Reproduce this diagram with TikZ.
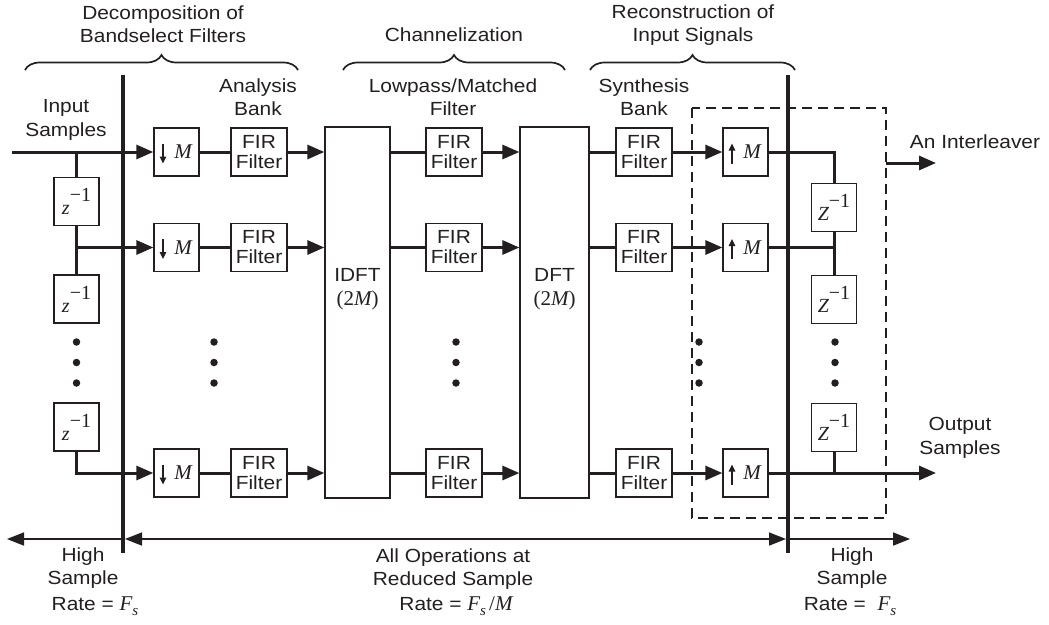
\documentclass[tikz,border=0pt]{standalone}
\usepackage{fontspec}
\setmainfont{Liberation Sans}[FakeStretch=1.1]
\newfontfamily\mysrf{Liberation Serif}
\usetikzlibrary{arrows.meta,decorations.pathreplacing}
\definecolor{ink}{RGB}{35,31,32}
\newcommand\lblfont{\fontsize{19}{23.5}\selectfont}
\newcommand\firfont{\fontsize{19}{20}\selectfont}
\newcommand\mfont{\fontsize{21}{21}\selectfont\mysrf\itshape}
\newcommand\zfont{\fontsize{20}{20}\selectfont\mysrf}
\newcommand\zc[1]{{\itshape #1}\raisebox{13pt}{−1}}
\newcommand\myFs{{\mysrf\fontsize{21}{21}\selectfont\itshape F\raisebox{-5pt}{\fontsize{15}{15}\selectfont s}}}
\begin{document}
\begin{tikzpicture}[x=1pt,y=-1pt,
  sig/.style={draw=ink,line width=3pt},
  arr/.style={sig,-{Triangle[length=17pt,width=14pt]}},
  bx/.style={draw=ink,line width=1.3pt,fill=white,inner sep=0pt,minimum height=48pt},
  fir/.style={bx,minimum width=56pt,align=center,font=\firfont,text=ink},
  mbx/.style={bx,minimum width=45pt,font=\mfont,text=ink},
  zbx/.style={bx,minimum width=45pt,font=\zfont,text=ink},
  big/.style={draw=ink,line width=1.3pt,inner sep=0pt,minimum height=371pt},
  lbl/.style={align=center,inner sep=0pt,font=\lblfont,text=ink},
  divider/.style={draw=ink,line width=3.4pt},
  rate/.style={draw=ink,line width=1.7pt},
  rtip/.style={rate,-{Triangle[length=17pt,width=13pt]}},
  rboth/.style={rate,{Triangle[length=17pt,width=13pt]}-{Triangle[length=17pt,width=13pt]}},
  smarr/.style={draw=ink,line width=1.5pt,-{Triangle[length=7pt,width=6.5pt]}},
  dot/.style={circle,fill=ink,inner sep=0pt,minimum size=7.5pt},
  brc/.style={draw=ink,line width=1.7pt,decorate,decoration={brace,amplitude=15pt}},
  dbox/.style={draw=ink,line width=1.4pt,dash pattern=on 10pt off 6pt},
  ]
\useasboundingbox (0,0) rectangle (1049,624);

% braces and headings
\coordinate (br1a) at (25,70); \coordinate (br1b) at (298,70);
\coordinate (br2a) at (343,70); \coordinate (br2b) at (565,70);
\coordinate (br3a) at (590,70); \coordinate (br3b) at (795,70);
\draw[brc] (br1a) -- (br1b);
\draw[brc] (br2a) -- (br2b);
\draw[brc] (br3a) -- (br3b);
\node[lbl] (h1) at (163,24) {Decomposition of\\Bandselect Filters};
\node[lbl,anchor=base] (h2) at (454,41) {Channelization};
\node[lbl] (h3) at (693,25) {Reconstruction of\\Input Signals};

\node[lbl] (tA) at (258,97) {Analysis\\Bank};
\node[lbl] (tL) at (453,97) {Lowpass/Matched\\Filter};
\node[lbl] (tS) at (644,97) {Synthesis\\Bank};
\node[lbl] (tI) at (66,120) {Input\\Samples};
\node[lbl,anchor=base] (tIL) at (975,148) {An Interleaver};
\node[lbl] (tO) at (960,438) {Output\\Samples};

% dashed box
\coordinate (db1) at (692,108); \coordinate (db2) at (886,518);
\draw[dbox] (db1) rectangle (db2);

% dividers
\coordinate (v1t) at (123,75); \coordinate (v1b) at (123,553);
\coordinate (v2t) at (788,75); \coordinate (v2b) at (788,553);
\draw[divider] (v1t) -- (v1b);
\draw[divider] (v2t) -- (v2b);

% left delay chain
\node[zbx] (z1) at (76.5,201.5) {\zc{z}};
\node[zbx] (z2) at (76.5,299) {\zc{z}};
\node[zbx] (z3) at (76.5,427) {\zc{z}};
\node[dot] (ld1) at (76.5,342) {};
\node[dot] (ld2) at (76.5,362.5) {};
\node[dot] (ld3) at (76.5,383) {};

% decimators
\node[mbx] (d1) at (176.5,152) {\hspace*{13pt}M};
\node[mbx] (d2) at (176.5,247.5) {\hspace*{13pt}M};
\node[mbx] (d3) at (176.5,473) {\hspace*{13pt}M};
\foreach \n in {d1,d2,d3}{
  \draw[smarr] ([xshift=-13.5pt,yshift=8.5pt]\n.center) -- ([xshift=-13.5pt,yshift=-11.5pt]\n.center);
}
\node[dot] (ad1) at (214,342) {};
\node[dot] (ad2) at (214,362.5) {};
\node[dot] (ad3) at (214,383) {};

% analysis FIR
\node[fir] (f1) at (259,152) {FIR\\Filter};
\node[fir] (f2) at (259,247.5) {FIR\\Filter};
\node[fir] (f3) at (259,473) {FIR\\Filter};

% IDFT / DFT
\node[big,minimum width=65pt] (idft) at (357.5,312.5) {};
\node[lbl] (idl) at (357.5,289) {IDFT\\{\mysrf\fontsize{21}{21}\selectfont(2{\itshape M})}};
\node[big,minimum width=69pt] (dft) at (554.5,312.5) {};
\node[lbl] (dl) at (554.5,289) {DFT\\{\mysrf\fontsize{21}{21}\selectfont(2{\itshape M})}};

% lowpass FIR
\node[fir] (g1) at (454,152) {FIR\\Filter};
\node[fir] (g2) at (454,247.5) {FIR\\Filter};
\node[fir] (g3) at (454,473) {FIR\\Filter};
\node[dot] (md1) at (456,342) {};
\node[dot] (md2) at (456,362.5) {};
\node[dot] (md3) at (456,383) {};

% synthesis FIR
\node[fir] (s1) at (644,152) {FIR\\Filter};
\node[fir] (s2) at (644,247.5) {FIR\\Filter};
\node[fir] (s3) at (644,473) {FIR\\Filter};
\node[dot] (sd1) at (699,342) {};
\node[dot] (sd2) at (699,362.5) {};
\node[dot] (sd3) at (699,383) {};

% interpolators
\node[mbx] (u1) at (745.5,152) {\hspace*{13pt}M};
\node[mbx] (u2) at (745.5,247.5) {\hspace*{13pt}M};
\node[mbx] (u3) at (745.5,473) {\hspace*{13pt}M};
\foreach \n in {u1,u2,u3}{
  \draw[smarr] ([xshift=-13.5pt,yshift=-11.5pt]\n.center) -- ([xshift=-13.5pt,yshift=8.5pt]\n.center);
}

% right delay chain
\node[zbx] (Z1) at (834,207.5) {\zc{Z}};
\node[zbx] (Z2) at (834,299.5) {\zc{Z}};
\node[zbx] (Z3) at (834,427.5) {\zc{Z}};
\node[dot] (rd1) at (835,342) {};
\node[dot] (rd2) at (835,362.5) {};
\node[dot] (rd3) at (835,383) {};

% signal connections
\coordinate (inS) at (12,152);
\coordinate (tap0) at (76.5,152);
\coordinate (tap1) at (76.5,247.5);
\draw[arr] (inS) -- (d1.west);
\draw[sig] (tap0) -- (z1.north);
\draw[sig] (z1.south) -- (tap1) -- (z2.north);
\draw[arr] (tap1) -- (d2.west);
\draw[arr] (z3.south) |- (d3.west);

\foreach \i in {1,2,3}{
  \draw[sig] (d\i) -- (f\i);
  \draw[arr] (f\i.east) -- (f\i.east -| idft.west);
  \draw[sig] (g\i.west -| idft.east) -- (g\i.west);
  \draw[arr] (g\i.east) -- (g\i.east -| dft.west);
  \draw[sig] (s\i.west -| dft.east) -- (s\i.west);
  \draw[arr] (s\i.east) -- (u\i.west);
}

\coordinate (rt1) at (834,247.5);
\coordinate (outE) at (936,473);
\draw[sig] (u1.east) -| (Z1.north);
\draw[sig] (Z1.south) -- (rt1) -- (Z2.north);
\draw[sig] (u2.east) -- (rt1);
\draw[arr] (u3.east) -- (outE);
\draw[sig] (Z3.south) -- (Z3.south |- outE);

\coordinate (ilS) at (886,163); \coordinate (ilE) at (936,163);
\draw[arr] (ilS) -- (ilE);

% rate arrows
\coordinate (b0) at (7,539); \coordinate (b1) at (123,539);
\coordinate (b1r) at (125,539); \coordinate (b2l) at (786,539);
\coordinate (b2) at (788,539); \coordinate (b3) at (910,539);
\draw[rtip] (b1) -- (b0);
\draw[rboth] (b1r) -- (b2l);
\draw[rtip] (b2) -- (b3);

\node[lbl] (hl) at (83,568) {High\\Sample};
\node[lbl,anchor=base] (rl) at (95,610) {Rate = \myFs};
\node[lbl] (ops) at (453,569) {All Operations at\\Reduced Sample};
\node[lbl,anchor=base] (rm) at (456,610) {Rate = \myFs\,{\mysrf\fontsize{21}{21}\selectfont/\itshape M}};
\node[lbl] (hr) at (852,568) {High\\Sample};
\node[lbl,anchor=base] (rr) at (850,610) {Rate =\ \ \myFs};
\end{tikzpicture}
\end{document}
